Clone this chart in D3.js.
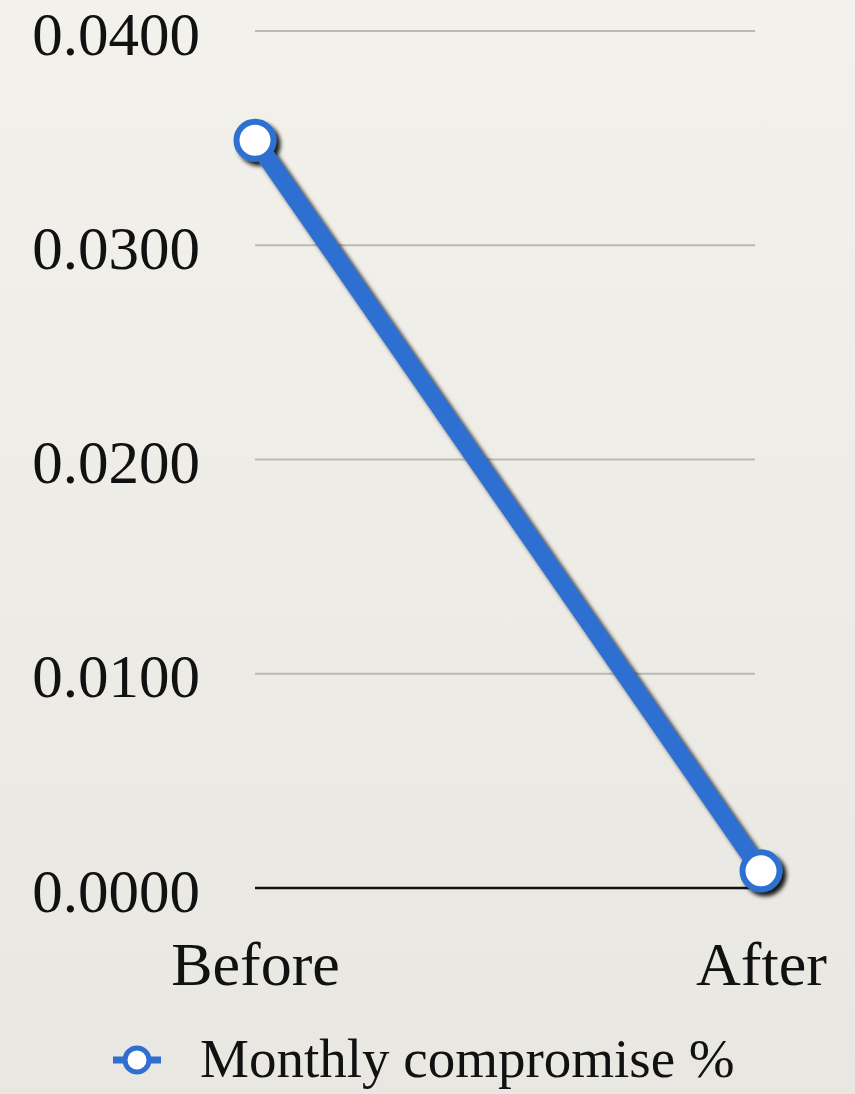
<!DOCTYPE html>
<html>
<head>
<meta charset="utf-8">
<script src="https://cdn.jsdelivr.net/npm/d3@7"></script>
<style>
  html, body { margin: 0; padding: 0; }
  svg { display: block; }
  svg text { font-family: "Liberation Serif", "DejaVu Serif", serif; fill: #111; }
</style>
</head>
<body>
<div id="chart"></div>
<script>
// datos del grafico
const categorias = ["Before", "After"];
const valores = [0.0349, 0.0008];
const ticksY = [0, 0.01, 0.02, 0.03, 0.04];
const serie = "Monthly compromise %";

const width = 855;
const height = 1094;
const margin = { top: 31, right: 97, bottom: 206, left: 255 };

const svg = d3.select("#chart")
  .append("svg")
  .attr("width", width)
  .attr("height", height);

// fondo tipo papel
const defs = svg.append("defs");
const grad = defs.append("linearGradient")
  .attr("id", "papel")
  .attr("x1", 0).attr("y1", 0).attr("x2", 0).attr("y2", 1);
grad.append("stop").attr("offset", "0%").attr("stop-color", "#f3f1ec");
grad.append("stop").attr("offset", "100%").attr("stop-color", "#e9e7e2");

const sombra = defs.append("filter")
  .attr("id", "sombra")
  .attr("x", "-20%").attr("y", "-20%")
  .attr("width", "140%").attr("height", "140%");
sombra.append("feDropShadow")
  .attr("dx", 4).attr("dy", 4)
  .attr("stdDeviation", 2)
  .attr("flood-color", "#000")
  .attr("flood-opacity", 0.9);

svg.append("rect")
  .attr("width", width)
  .attr("height", height)
  .attr("fill", "url(#papel)");

const innerWidth = width - margin.left - margin.right;
const innerHeight = height - margin.top - margin.bottom;

const g = svg.append("g")
  .attr("transform", `translate(${margin.left},${margin.top})`);

// escalas
const x = d3.scalePoint()
  .domain(categorias)
  .range([0, innerWidth + 3]);

const y = d3.scaleLinear()
  .domain([0, 0.04])
  .range([innerHeight, 0]);

// lineas de cuadricula
g.selectAll(".grid")
  .data(ticksY.filter((t) => t > 0))
  .enter()
  .append("line")
  .attr("x1", 0)
  .attr("x2", 500)
  .attr("y1", (d) => y(d))
  .attr("y2", (d) => y(d))
  .attr("stroke", "#b9b9b9")
  .attr("stroke-width", 2);

g.append("line")
  .attr("x1", 0)
  .attr("x2", 500)
  .attr("y1", y(0))
  .attr("y2", y(0))
  .attr("stroke", "#111")
  .attr("stroke-width", 2.5);

// eje Y
const ejeY = g.append("g")
  .call(d3.axisLeft(y).tickValues(ticksY).tickFormat(d3.format(".4f")).tickSize(0).tickPadding(55));
ejeY.select(".domain").remove();
ejeY.selectAll("text")
  .style("font-size", "61px")
  .style("font-family", "'Liberation Serif', serif")
  .attr("fill", "#111")
  .attr("dy", "0.38em");

// eje X
const ejeX = g.append("g")
  .attr("transform", `translate(0,${innerHeight})`)
  .call(d3.axisBottom(x).tickSize(0).tickPadding(53));
ejeX.select(".domain").remove();
ejeX.selectAll("text")
  .style("font-size", "62px")
  .style("font-family", "'Liberation Serif', serif")
  .attr("fill", "#111");

// linea y marcadores
const azul = "#2f6fd2";
const puntos = categorias.map((c, i) => ({ cat: c, val: valores[i] }));

const capa = g.append("g").attr("filter", "url(#sombra)");

capa.append("path")
  .datum(puntos)
  .attr("fill", "none")
  .attr("stroke", azul)
  .attr("stroke-width", 18)
  .attr("d", d3.line().x((d) => x(d.cat)).y((d) => y(d.val)));

capa.selectAll("circle")
  .data(puntos)
  .enter()
  .append("circle")
  .attr("cx", (d) => x(d.cat))
  .attr("cy", (d) => y(d.val))
  .attr("r", 18.5)
  .attr("fill", "#fff")
  .attr("stroke", azul)
  .attr("stroke-width", 6);

// leyenda
const ley = svg.append("g").attr("transform", "translate(137,1060)");
ley.append("line")
  .attr("x1", -24).attr("x2", 24)
  .attr("stroke", azul).attr("stroke-width", 7);
ley.append("circle")
  .attr("r", 12)
  .attr("fill", "#fff")
  .attr("stroke", azul)
  .attr("stroke-width", 5);
ley.append("text")
  .attr("x", 63)
  .attr("y", 17)
  .style("font-size", "55px")
  .text(serie);
</script>
</body>
</html>
